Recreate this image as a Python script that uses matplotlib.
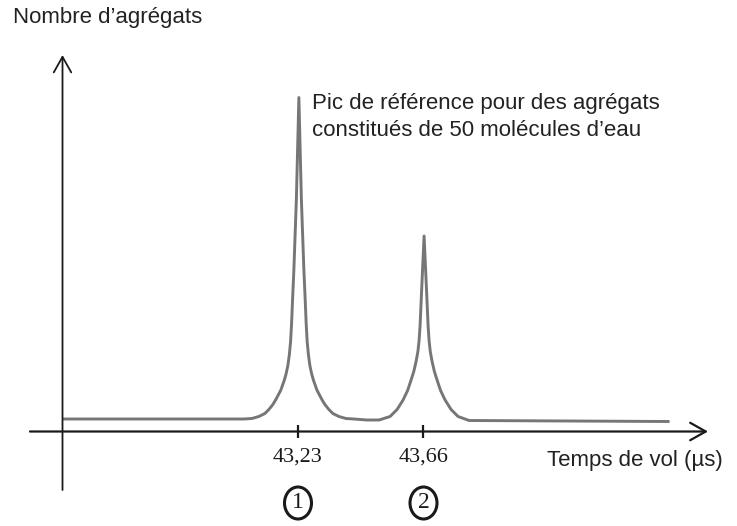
import matplotlib.pyplot as plt
from matplotlib.patches import Ellipse

temps = [42.428,
         43.0446, 43.072, 43.0959, 43.1165, 43.1302, 43.1439, 43.1542, 43.1713, 43.1833,
         43.1895, 43.1953, 43.2004, 43.2046, 43.208, 43.2114, 43.2159, 43.2244, 43.233,
         43.2416, 43.2501, 43.2546, 43.258, 43.2614, 43.2656, 43.2707, 43.2765, 43.2827,
         43.2947, 43.3118, 43.3221, 43.3358, 43.3495, 43.3701, 43.394, 43.4214, 43.465,
         43.5078, 43.5455, 43.5695, 43.590, 43.6055, 43.6175, 43.6267, 43.6346, 43.6408,
         43.6449, 43.6483, 43.6534, 43.662,
         43.6706, 43.6757, 43.6791, 43.6832, 43.6894, 43.6973, 43.7065, 43.7185, 43.734,
         43.7545, 43.7785, 43.8162, 44.498]
nombre = [1.25,
          1.25, 1.3, 1.5, 1.8, 2.2, 2.7, 3.2, 4.15, 5.15,
          5.8, 6.6, 7.7, 9.0, 10.8, 13.2, 16.2, 23.2, 33.4,
          23.2, 16.2, 13.2, 10.8, 9.0, 7.7, 6.6, 5.8, 5.15,
          4.15, 3.2, 2.7, 2.2, 1.8, 1.5, 1.3, 1.25, 1.15,
          1.15, 1.5, 2.2, 3.15, 4.1, 5.15, 6.0, 7.0, 8.0,
          9.1, 10.6, 14.0, 19.55,
          14.0, 10.6, 9.1, 8.0, 7.0, 6.0, 5.15, 4.1, 3.15,
          2.2, 1.5, 1.1, 1.0]

ticks = [43.23, 43.66]
tick_labels = ["43,23", "43,66"]
repères = ["1", "2"]

# pixel -> données (figure de 737x526 px)
K = 0.43 / 125.5
def X(px):
    return 43.23 + (px - 298) * K
def Y(py):
    return (431.5 - py) / 10

sans = "Liberation Sans"
serif = "Liberation Serif"
ink = "#1a1a1a"

fig = plt.figure(figsize=(7.37, 5.26), dpi=100)
ax = fig.add_axes([0, 0, 1, 1])
ax.set_xlim(X(0), X(737))
ax.set_ylim(Y(526), Y(0))
ax.axis("off")

# courbe
ax.plot(temps, nombre, color="#767676", lw=2.1, solid_joinstyle="round")

# axes fléchés
arrow = "->,head_length=0.8,head_width=0.45"
ax.annotate("", xy=(X(708), 0), xytext=(X(30), 0),
            arrowprops=dict(arrowstyle=arrow, lw=1.6, color=ink, shrinkA=0, shrinkB=0, mutation_scale=14))
ax.annotate("", xy=(X(62.5), Y(55)), xytext=(X(62.5), Y(490)),
            arrowprops=dict(arrowstyle=arrow, lw=1.3, color=ink, shrinkA=0, shrinkB=0, mutation_scale=14))

# graduations
ax.vlines(ticks, Y(438), Y(425), color=ink, lw=1.6)
for v, lab, r in zip(ticks, tick_labels, repères):
    ax.text(v, Y(457), lab, family=serif, fontsize=16, ha="center", va="center", color=ink)
    ax.text(v, Y(503), r, family=serif, fontsize=17, ha="center", va="center", color=ink)
    ax.add_patch(Ellipse((v, Y(503)), 27 * K, 3.2, fill=False, lw=2.2, ec=ink))

# textes
ax.text(X(13), Y(23), "Nombre d’agrégats", family=sans, fontsize=16, color="#222222")
ax.text(X(547), Y(466), "Temps de vol (µs)", family=sans, fontsize=16, color="#222222")
ax.text(X(312), Y(109), "Pic de référence pour des agrégats", family=sans, fontsize=16, color="#222222")
ax.text(X(312), Y(136.5), "constitués de 50 molécules d’eau", family=sans, fontsize=16, color="#222222")

fig.savefig("out.png", dpi=100)
